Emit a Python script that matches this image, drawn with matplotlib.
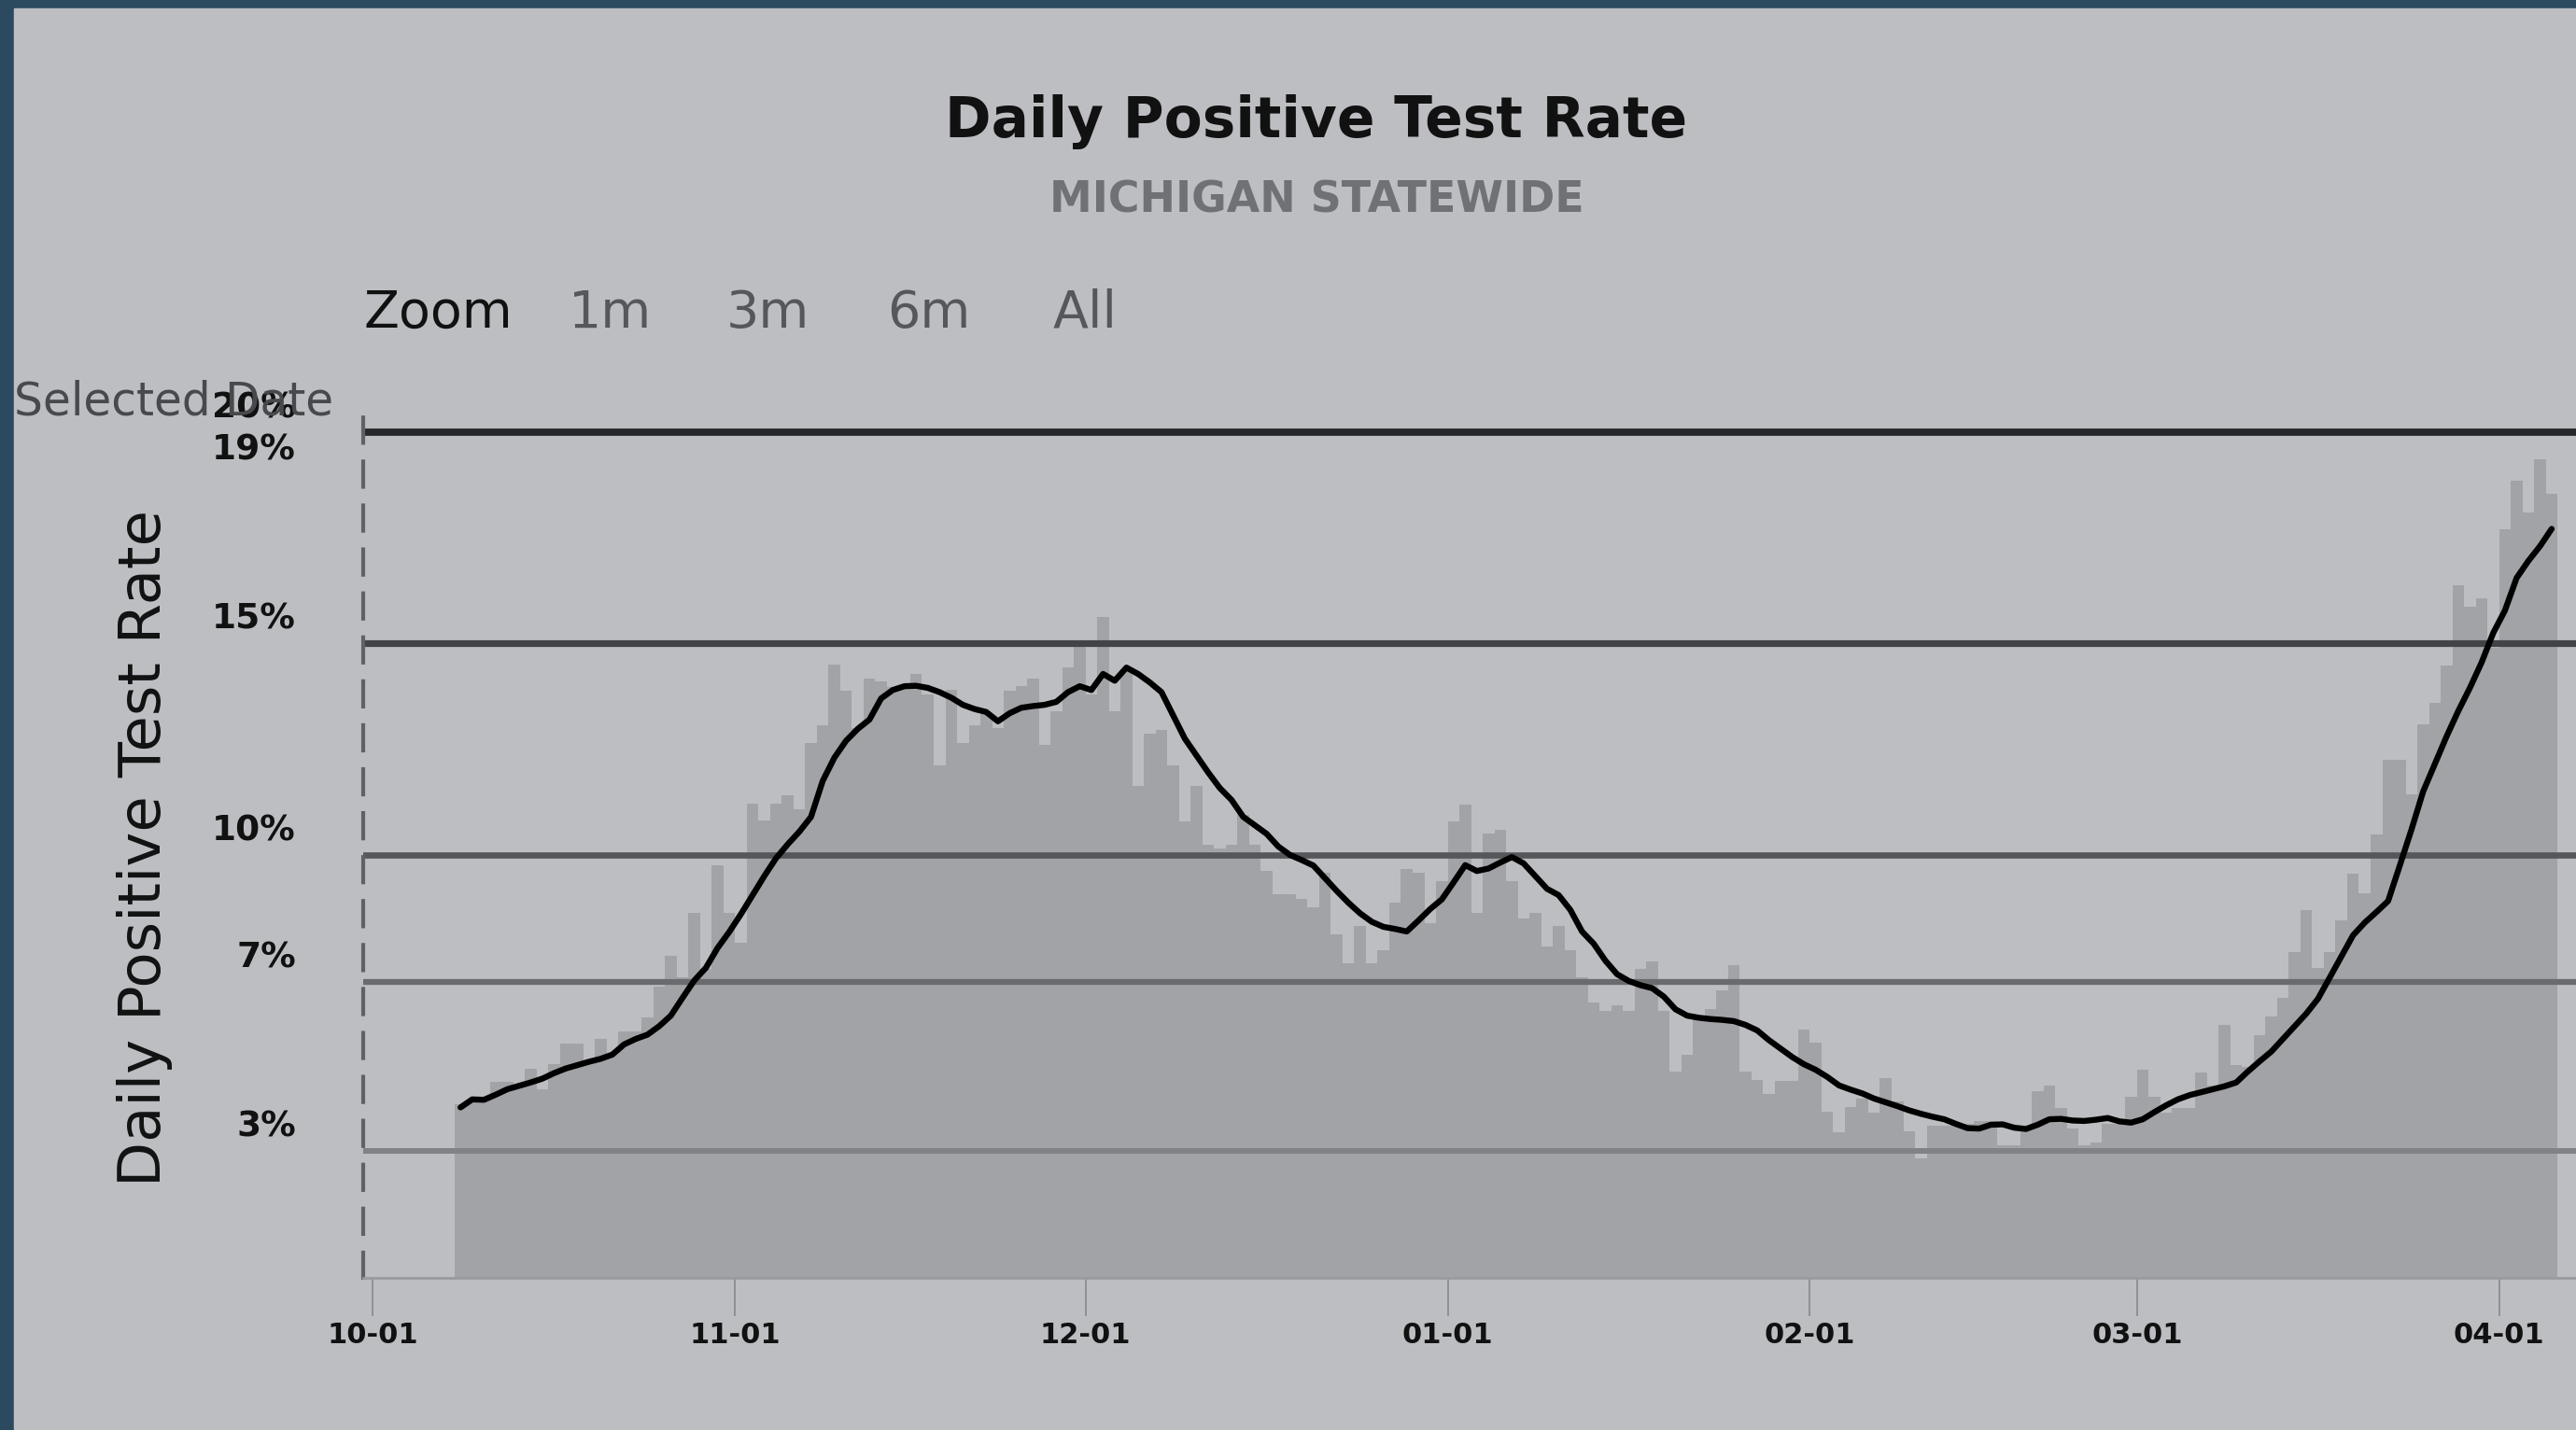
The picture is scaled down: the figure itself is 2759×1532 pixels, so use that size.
import matplotlib
matplotlib.use("Agg")
import matplotlib.pyplot as plt
import matplotlib.transforms as mtransforms
from matplotlib.patches import Rectangle
import pandas as pd

# ─────────────────────────────────────────────────────────────────────────────
# DATA
START_DATE = "2020-10-08"

# daily positive test rate, %
daily_rate = [
    4.10, 4.17, 4.20, 4.63, 4.63, 4.54, 4.94, 4.46, 5.05, 5.55,
    5.55, 5.12, 5.66, 5.28, 5.83, 5.83, 6.16, 6.89, 7.61, 7.10,
    8.63, 7.30, 9.76, 8.63, 7.92, 11.22, 10.81, 11.22, 11.42, 11.09,
    12.65, 13.07, 14.50, 13.88, 13.00, 14.18, 14.10, 13.98, 13.98, 14.29,
    13.80, 12.12, 13.90, 12.65, 13.07, 13.33, 13.00, 13.88, 14.00, 14.18,
    12.60, 13.40, 14.43, 14.95, 13.80, 15.63, 13.40, 14.40, 11.64, 12.87,
    12.96, 12.12, 10.79, 11.63, 10.25, 10.16, 10.25, 10.95, 10.25, 9.63,
    9.07, 9.07, 8.97, 8.77, 9.58, 8.13, 7.44, 8.33, 7.44, 7.75,
    8.87, 9.67, 9.58, 8.38, 9.38, 10.79, 11.20, 8.63, 10.50, 10.60,
    9.38, 8.50, 8.63, 7.84, 8.33, 7.75, 7.10, 6.51, 6.31, 6.45,
    6.31, 7.30, 7.49, 6.31, 4.88, 5.27, 6.17, 6.36, 6.80, 7.39,
    4.88, 4.69, 4.35, 4.65, 4.65, 5.87, 5.57, 3.92, 3.44, 4.04,
    4.24, 3.90, 4.73, 4.17, 3.46, 2.83, 3.59, 3.59, 3.65, 3.65,
    3.71, 3.71, 3.14, 3.14, 3.53, 4.41, 4.54, 4.02, 3.53, 3.14,
    3.20, 3.65, 3.65, 4.28, 4.92, 4.28, 3.90, 4.02, 4.02, 4.85,
    4.54, 5.99, 5.04, 4.98, 5.74, 6.18, 6.63, 7.70, 8.70, 7.33,
    7.70, 8.46, 9.55, 9.10, 10.49, 12.26, 12.26, 11.44, 13.09, 13.60,
    14.48, 16.38, 15.87, 16.07, 14.90, 17.71, 18.85, 18.10, 19.36, 18.54,
]

# 7-day average positive test rate, %
avg_rate = [
    4.03, 4.22, 4.21, 4.33, 4.46, 4.54, 4.62, 4.71, 4.84, 4.95,
    5.03, 5.11, 5.18, 5.28, 5.52, 5.65, 5.75, 5.95, 6.20, 6.62,
    7.03, 7.33, 7.80, 8.18, 8.60, 9.05, 9.50, 9.92, 10.25, 10.55,
    10.90, 11.75, 12.30, 12.70, 12.98, 13.20, 13.70, 13.90, 13.99, 14.00,
    13.95, 13.85, 13.72, 13.55, 13.45, 13.38, 13.16, 13.35, 13.48, 13.52,
    13.55, 13.62, 13.85, 13.99, 13.90, 14.28, 14.12, 14.43, 14.28, 14.08,
    13.85, 13.30, 12.75, 12.35, 11.95, 11.58, 11.30, 10.90, 10.70, 10.50,
    10.20, 10.00, 9.88, 9.75, 9.45, 9.15, 8.87, 8.62, 8.42, 8.30,
    8.25, 8.19, 8.45, 8.72, 8.95, 9.35, 9.76, 9.62, 9.68, 9.82,
    9.95, 9.80, 9.50, 9.20, 9.05, 8.70, 8.19, 7.90, 7.50, 7.18,
    7.02, 6.92, 6.85, 6.65, 6.35, 6.20, 6.15, 6.12, 6.10, 6.07,
    5.98, 5.85, 5.62, 5.42, 5.22, 5.05, 4.92, 4.75, 4.55, 4.45,
    4.36, 4.24, 4.15, 4.06, 3.96, 3.88, 3.81, 3.75, 3.64, 3.54,
    3.53, 3.62, 3.63, 3.55, 3.52, 3.62, 3.75, 3.76, 3.72, 3.71,
    3.74, 3.78, 3.70, 3.67, 3.75, 3.92, 4.08, 4.22, 4.32, 4.39,
    4.46, 4.53, 4.62, 4.88, 5.12, 5.35, 5.65, 5.95, 6.25, 6.60,
    7.10, 7.60, 8.10, 8.40, 8.65, 8.91, 9.75, 10.60, 11.50, 12.15,
    12.80, 13.40, 13.95, 14.55, 15.25, 15.78, 16.55, 16.95, 17.30, 17.71,
]

threshold_levels = [3, 7, 10, 15, 20]
ylabel_values = [3, 7, 10, 15, 19, 20]
ylabel_texts = ["3%", "7%", "10%", "15%", "19%", "20%"]
month_ticks = ["2020-10-01", "2020-11-01", "2020-12-01", "2021-01-01",
               "2021-02-01", "2021-03-01", "2021-04-01"]
month_labels = ["10-01", "11-01", "12-01", "01-01", "02-01", "03-01", "04-01"]
zoom_buttons = ["1m", "3m", "6m", "All"]
# ─────────────────────────────────────────────────────────────────────────────

BG = "#bcbec2"
FRAME = "#2b4a5f"
BAR = "#a2a3a7"
THRESH_COLORS = ["#818285", "#6a6b6e", "#56575a", "#424346", "#262829"]
THRESH_WIDTHS = [4.3, 4.5, 4.8, 5.2, 5.6]

plt.rcParams["font.family"] = ["DejaVu Sans"]

dates = pd.date_range(START_DATE, periods=len(daily_rate), freq="D")
mid = dates + pd.Timedelta(hours=12)

fig = plt.figure(figsize=(27.59, 15.32), dpi=100, facecolor=FRAME)
fig.patches.append(Rectangle((15 / 2759, 0), 1, 1 - 9 / 1532,
                             transform=fig.transFigure, color=BG, zorder=-5))

ax = fig.add_axes([389 / 2759, 1 - 1369 / 1532, 2370 / 2759, 922 / 1532])
ax.set_facecolor("none")

# daily bars, threshold lines, then the 7-day average on top
ax.bar(dates, daily_rate, width=1.0, align="edge", color=BAR,
       linewidth=0, zorder=1)
for lvl, c, w in zip(threshold_levels, THRESH_COLORS, THRESH_WIDTHS):
    ax.axhline(lvl, color=c, lw=w, zorder=2)
ax.plot(mid, avg_rate, color="black", lw=4.6, zorder=3,
        solid_joinstyle="round", solid_capstyle="round")

ax.set_ylim(0, 20.35)
ax.set_xlim(pd.Timestamp("2020-09-30 04:00"), pd.Timestamp("2021-04-07 14:00"))

ax.set_xticks(pd.to_datetime(month_ticks))
ax.set_xticklabels(month_labels, fontsize=22, fontweight="bold", color="#111111")
ax.tick_params(axis="x", length=29.5, width=1.3, color="#8c8d90", pad=4)
ax.set_yticks([])

for s in ["top", "right"]:
    ax.spines[s].set_visible(False)
ax.spines["bottom"].set_color("#9a9b9e")
ax.spines["bottom"].set_linewidth(2)
ax.spines["left"].set_color("#606164")
ax.spines["left"].set_linewidth(3)
ax.spines["left"].set_linestyle((0, (6.5, 4.8)))

# y labels sit just above their lines
lab_tr = mtransforms.offset_copy(
    mtransforms.blended_transform_factory(ax.transAxes, ax.transData),
    fig=fig, x=0, y=18.5, units="points")
for v, t in zip(ylabel_values, ylabel_texts):
    ax.text(-0.0304, v, t, transform=lab_tr, ha="right", va="center",
            fontsize=27, fontweight="bold", color="#111111")

fig.text(0.0562, 0.4073, "Daily Positive Test Rate", rotation=90,
         ha="center", va="center", fontsize=45, color="#111111")

fig.text(0.511, 0.9145, "Daily Positive Test Rate", ha="center", va="center",
         fontsize=43, fontweight="bold", color="#111111")
fig.text(0.511, 0.8595, "MICHIGAN STATEWIDE", ha="center", va="center",
         fontsize=33, fontweight="bold", color="#707175")

fig.text(389 / 2759, 0.781, "Zoom", ha="left", va="center",
         fontsize=40, color="#111111")
for lbl, xpx in zip(zoom_buttons, [609, 778, 950, 1128]):
    fig.text(xpx / 2759, 0.781, lbl, ha="left", va="center",
             fontsize=40, color="#56575a")

fig.text(15 / 2759, 0.7187, "Selected Date", ha="left", va="center",
         fontsize=35, color="#48494c")

fig.savefig("out.png", dpi=100, facecolor=FRAME)
